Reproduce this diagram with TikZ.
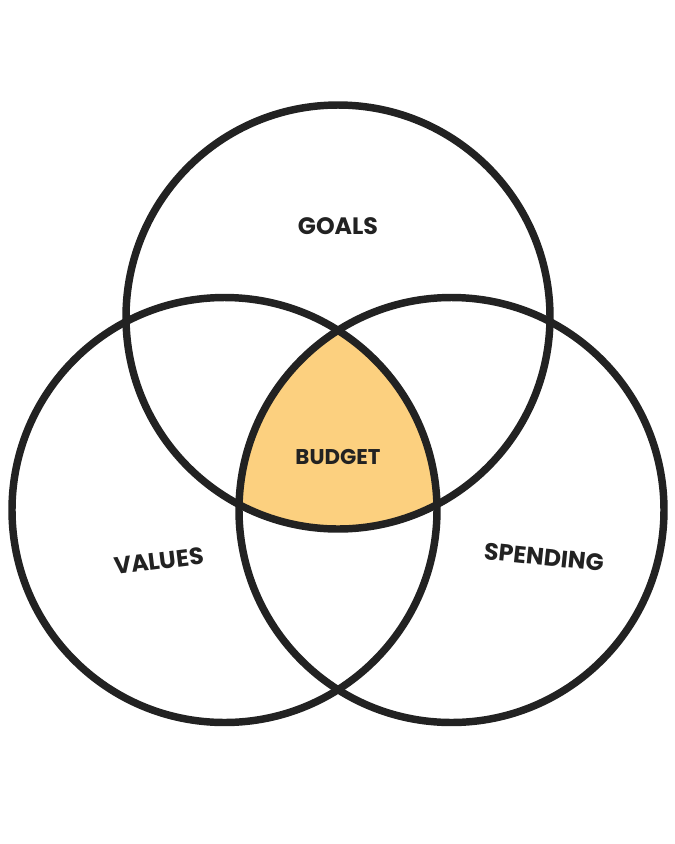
\documentclass[tikz,border=0pt]{standalone}
\usepackage{fontspec}
\setmainfont{Poppins}
\definecolor{ink}{HTML}{222222}
\definecolor{budgetfill}{HTML}{FCD07F}
\begin{document}
\begin{tikzpicture}[x=0.75pt,y=-0.75pt,
  ring/.style={draw=ink,line width=5.6pt},
  lbl/.style={font=\bfseries\fontsize{17.8}{20}\selectfont,text=ink,inner sep=0pt}]
\useasboundingbox (0,0) rectangle (675,844);
\coordinate (g) at (338,317);
\coordinate (v) at (224.5,510);
\coordinate (s) at (451.5,510);
\begin{scope}
  \clip (g) circle[radius=212];
  \clip (v) circle[radius=212.5];
  \fill[budgetfill] (s) circle[radius=212.5];
\end{scope}
\draw[ring] (g) circle[radius=212];
\draw[ring] (v) circle[radius=212.5];
\draw[ring] (s) circle[radius=212.5];
\node[lbl] (goals) at (338,226) {GOALS};
\node[lbl,font=\bfseries\fontsize{16}{18}\selectfont] (budget) at (338,457) {BUDGET};
\node[lbl,rotate=7] (values) at (159,561) {VALUES};
\node[lbl,rotate=-6] (spending) at (544,557) {SPENDING};
\end{tikzpicture}
\end{document}
